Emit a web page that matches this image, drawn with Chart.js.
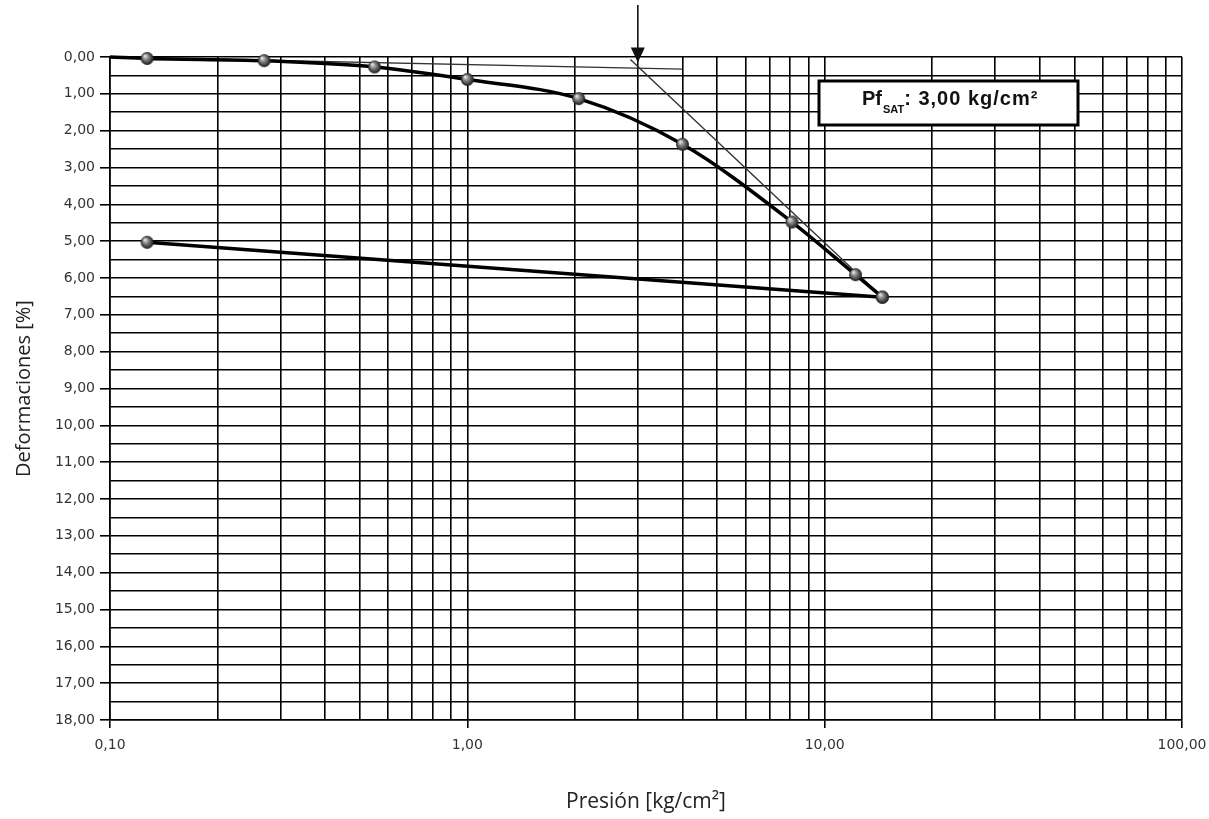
<!DOCTYPE html>
<html>
<head>
<meta charset="utf-8">
<script src="https://cdn.jsdelivr.net/npm/chart.js@4.4.1/dist/chart.umd.min.js"></script>
<style>
html, body { margin: 0; padding: 0; background: #fff; }
</style>
</head>
<body>
<canvas id="consolidacion" width="1209" height="819"></canvas>
<script>
// curva de carga: presion [kg/cm2] y deformacion [%]
const presionCarga = [0.1, 0.127, 0.27, 0.55, 1.0, 2.05, 4.0, 8.1, 12.2, 14.5];
const deformCarga  = [0.0, 0.04, 0.10, 0.27, 0.61, 1.13, 2.37, 4.48, 5.91, 6.52];

// descarga
const presionDescarga = [14.5, 0.127];
const deformDescarga  = [6.52, 5.03];

// rectas de construccion
const presionRecta1 = [0.1, 4.0];
const deformRecta1  = [0.0, 0.33];
const presionRecta2 = [2.86, 14.5];
const deformRecta2  = [0.07, 6.52];

const pfSat = 3.0;
const pfTexto = ": 3,00 kg/cm²";

const xDecadas = [0.1, 1, 10, 100];
const xTickLabels = ["0,10", "1,00", "10,00", "100,00"];
const yTickLabels = ["0,00", "1,00", "2,00", "3,00", "4,00", "5,00", "6,00", "7,00", "8,00", "9,00",
  "10,00", "11,00", "12,00", "13,00", "14,00", "15,00", "16,00", "17,00", "18,00"];

function toPoints(xs, ys) {
  return xs.map((v, i) => ({ x: v, y: ys[i] }));
}

function esDecada(v) {
  return xDecadas.findIndex(d => Math.abs(v - d) < d * 1e-6);
}

// lineas de grilla log: 1..9 por decada
const xGrid = [];
for (let d = 0; d < xDecadas.length - 1; d++) {
  for (let k = 1; k <= 9; k++) xGrid.push(xDecadas[d] * k);
}
xGrid.push(xDecadas[xDecadas.length - 1]);

function makeSphere(r) {
  const c = document.createElement('canvas');
  c.width = c.height = r * 2 + 2;
  const g = c.getContext('2d');
  const cx = r + 1, cy = r + 1;
  const grad = g.createRadialGradient(cx - r * 0.35, cy - r * 0.4, r * 0.1, cx, cy, r);
  grad.addColorStop(0, '#e0e0e0');
  grad.addColorStop(0.35, '#8c8c8c');
  grad.addColorStop(0.8, '#3a3a3a');
  grad.addColorStop(1, '#1c1c1c');
  g.fillStyle = grad;
  g.beginPath();
  g.arc(cx, cy, r, 0, Math.PI * 2);
  g.fill();
  return c;
}
const esfera = makeSphere(6.5);

const pfPlugin = {
  id: 'pfSat',
  afterDraw(chart) {
    const { ctx, chartArea, scales: { x, y } } = chart;
    const px = x.getPixelForValue(pfSat);
    const tip = y.getPixelForValue(0.15);
    ctx.save();
    // flecha
    ctx.strokeStyle = '#111';
    ctx.lineWidth = 1.6;
    ctx.beginPath();
    ctx.moveTo(px, 5);
    ctx.lineTo(px, tip - 10);
    ctx.stroke();
    ctx.fillStyle = '#111';
    ctx.beginPath();
    ctx.moveTo(px - 7, tip - 15);
    ctx.lineTo(px + 7, tip - 15);
    ctx.lineTo(px, tip);
    ctx.closePath();
    ctx.fill();

    // recuadro
    const bx = chartArea.left + 709, by = chartArea.top + 24, bw = 259, bh = 44;
    ctx.fillStyle = '#fff';
    ctx.fillRect(bx, by, bw, bh);
    ctx.strokeStyle = '#000';
    ctx.lineWidth = 3;
    ctx.strokeRect(bx, by, bw, bh);

    ctx.fillStyle = '#111';
    ctx.textAlign = 'left';
    ctx.textBaseline = 'alphabetic';
    let tx = bx + 43;
    ctx.font = 'bold 20px "Liberation Sans", Arial, sans-serif';
    ctx.fillText('Pf', tx, by + 24);
    tx += ctx.measureText('Pf').width + 1;
    ctx.font = 'bold 11px "Liberation Sans", Arial, sans-serif';
    ctx.fillText('SAT', tx, by + 32);
    tx += ctx.measureText('SAT').width;
    ctx.font = 'bold 20px "Liberation Sans", Arial, sans-serif';
    ctx.letterSpacing = '1px';
    ctx.fillText(pfTexto, tx, by + 24);
    ctx.restore();
  }
};

new Chart(document.getElementById('consolidacion'), {
  type: 'scatter',
  data: {
    datasets: [
      {
        data: toPoints(presionCarga, deformCarga),
        showLine: true,
        borderColor: '#000',
        borderWidth: 3.5,
        cubicInterpolationMode: 'monotone',
        pointStyle: esfera,
        pointRadius: presionCarga.map((p, i) => i === 0 ? 0 : 6),
        clip: false
      },
      {
        data: toPoints(presionDescarga, deformDescarga),
        showLine: true,
        borderColor: '#000',
        borderWidth: 3.5,
        pointStyle: esfera,
        pointRadius: 6,
        clip: false
      },
      {
        data: toPoints(presionRecta1, deformRecta1),
        showLine: true,
        borderColor: '#333',
        borderWidth: 1.4,
        pointRadius: 0,
        clip: false
      },
      {
        data: toPoints(presionRecta2, deformRecta2),
        showLine: true,
        borderColor: '#333',
        borderWidth: 1.4,
        pointRadius: 0,
        clip: false
      }
    ]
  },
  options: {
    responsive: false,
    animation: false,
    layout: { padding: { top: 57, right: 27, bottom: 0, left: 0 } },
    plugins: {
      legend: { display: false },
      tooltip: { enabled: false }
    },
    scales: {
      x: {
        type: 'logarithmic',
        min: 0.1,
        max: 100,
        afterBuildTicks: scale => { scale.ticks = xGrid.map(v => ({ value: v })); },
        afterFit: scale => {
          scale.height = 99;
          scale.paddingLeft = 0;
          scale.paddingRight = 0;
        },
        ticks: {
          autoSkip: false,
          maxRotation: 0,
          padding: 9,
          color: '#333',
          font: { family: '"DejaVu Sans"', size: 14 },
          callback: v => {
            const i = esDecada(v);
            return i >= 0 ? xTickLabels[i] : '';
          }
        },
        grid: {
          color: '#000',
          lineWidth: 1.6,
          tickLength: 8,
          tickColor: c => esDecada(c.tick.value) >= 0 ? '#000' : 'rgba(0,0,0,0)'
        },
        border: { color: '#000', width: 1.6 },
        title: {
          display: true,
          text: 'Presión [kg/cm²]',
          color: '#222',
          font: { family: '"Open Sans"', size: 21 },
          padding: { top: 0, bottom: 4 }
        }
      },
      y: {
        type: 'linear',
        reverse: true,
        min: 0,
        max: 18,
        afterFit: scale => { scale.width = 110; },
        ticks: {
          stepSize: 0.5,
          autoSkip: false,
          padding: 5,
          color: '#333',
          font: { family: '"DejaVu Sans"', size: 14 },
          callback: v => Number.isInteger(v) ? yTickLabels[v] : ''
        },
        grid: {
          color: '#000',
          lineWidth: 1.6,
          tickLength: 10,
          tickColor: c => Number.isInteger(c.tick.value) ? '#000' : 'rgba(0,0,0,0)'
        },
        border: { color: '#000', width: 1.6 },
        title: {
          display: true,
          text: 'Deformaciones [%]',
          color: '#222',
          font: { family: '"Open Sans"', size: 20 },
          padding: { top: 12, bottom: 0 }
        }
      }
    }
  },
  plugins: [pfPlugin]
});
</script>
</body>
</html>
